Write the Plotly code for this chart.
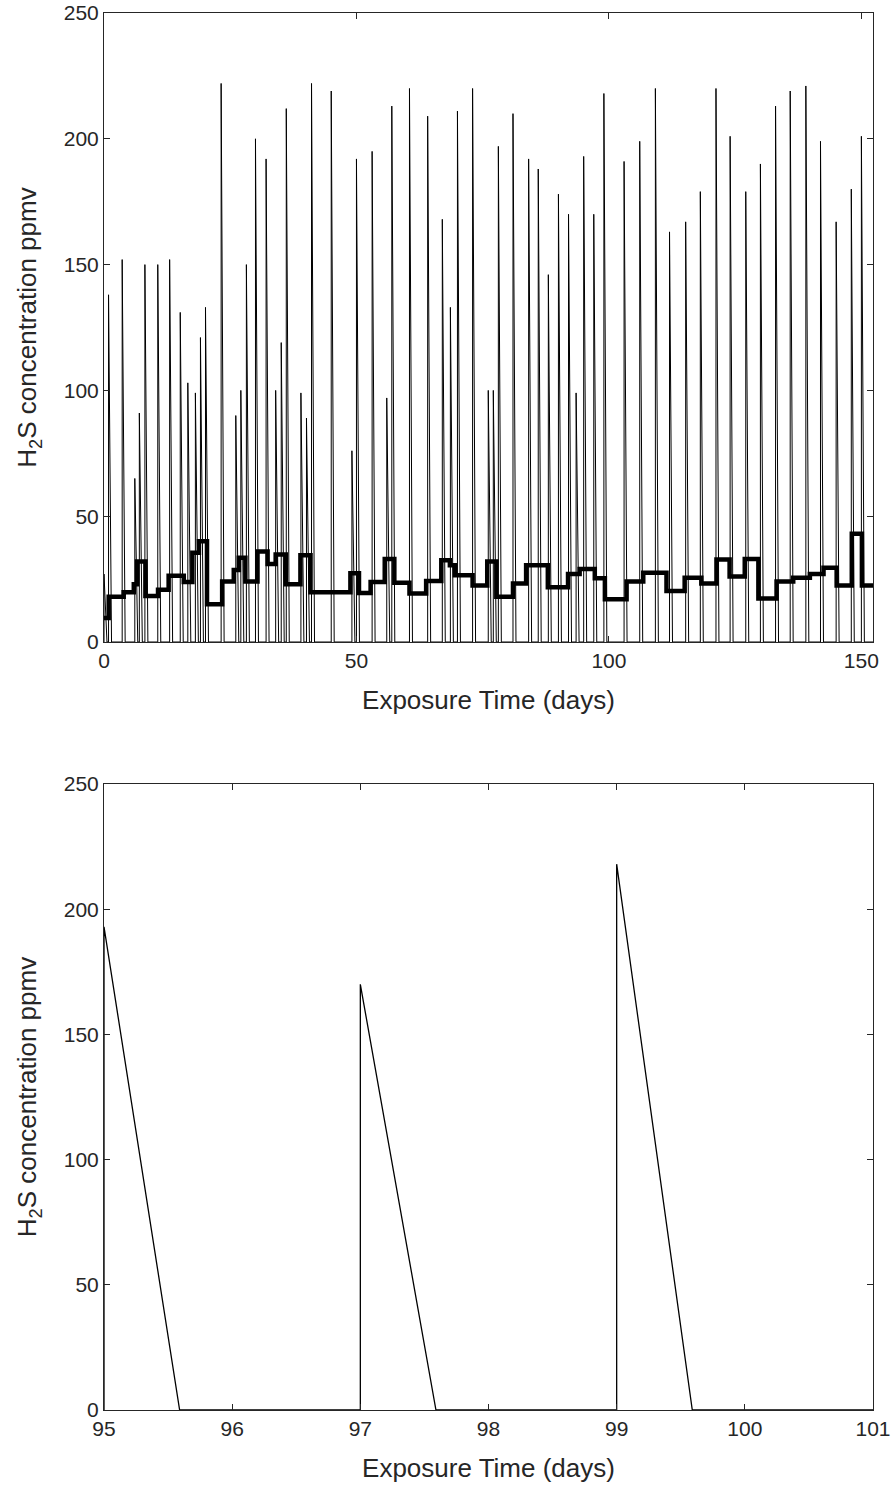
import plotly.graph_objects as go

# ---- data ----
spike_day = [0.0, 0.9, 3.6, 6.1, 7.0, 8.1, 10.65, 13.0, 15.1, 16.6, 18.1, 19.1, 20.1,
             23.2, 26.1, 27.1, 28.2, 30.0, 32.1, 34.0, 35.1, 36.1, 39.0, 40.1, 41.1,
             45.0, 49.1, 50.0, 53.1, 56.0, 57.0, 60.5, 64.1, 67.0, 68.6, 70.0, 73.0,
             76.1, 77.1, 78.1, 81.0, 84.1, 86.0, 88.0, 90.0, 92.0, 93.5, 95.0, 97.0,
             99.0, 103.0, 106.1, 109.2, 112.0, 115.2, 118.1, 121.2, 124.0, 127.1,
             130.0, 133.0, 135.9, 139.0, 141.9, 145.0, 148.0, 150.0]
spike_peak = [27, 138, 152, 65, 91, 150, 150, 152, 131, 103, 99, 121, 133,
              222, 90, 100, 150, 200, 192, 100, 119, 212, 99, 89, 222,
              219, 76, 192, 195, 97, 213, 220, 209, 168, 133, 211, 220,
              100, 100, 197, 210, 192, 188, 146, 178, 170, 99, 193, 170,
              218, 191, 199, 220, 163, 167, 179, 220, 201, 179,
              190, 213, 219, 221, 199, 167, 180, 201]
decay_days = 0.59          # time for each pulse to fall back to zero
end_day = 152.3

step_day = [0, 0.93, 3.9, 5.9, 6.55, 8.2, 10.7, 12.8, 15.8, 17.5, 18.8, 20.4, 23.4,
            25.7, 26.7, 28.0, 30.4, 32.4, 34.0, 36.0, 38.9, 40.9, 48.8, 50.5, 52.8,
            55.6, 57.5, 60.5, 63.8, 66.8, 68.5, 69.5, 73.0, 75.9, 77.7, 81.0, 83.6,
            87.9, 91.9, 94.2, 97.2, 99.2, 103.5, 106.8, 111.4, 115.0, 118.3, 121.3,
            123.9, 126.9, 129.6, 133.2, 136.5, 139.8, 142.5, 145.1, 148.1, 150.1, 152.3]
step_val = [9.5, 18, 19.8, 23, 32, 18.3, 20.8, 26.3, 23.8, 35.5, 40, 15, 24,
            28.6, 33.5, 24, 36, 31, 34.8, 23, 34.5, 19.8, 27.3, 19.5, 23.8,
            33, 23.5, 19.3, 24.2, 32.5, 30.5, 26.5, 22.5, 32, 18, 23.3, 30.5,
            21.8, 27, 29, 25.3, 17, 24, 27.5, 20.3, 25.5, 23.3, 32.8,
            26, 33, 17.3, 24, 25.5, 27, 29.5, 22.5, 43, 22.5, 22.5]

x_ticks_top = [0, 50, 100, 150]
x_ticks_bot = [95, 96, 97, 98, 99, 100, 101]
y_ticks = [0, 50, 100, 150, 200, 250]

# ---- build pulse trace from the read values ----
px, py = [0.0], [0.0]
for d, p in zip(spike_day, spike_peak):
    px += [d, d, d + decay_days]
    py += [0, p, 0]
px.append(end_day)
py.append(0)

AX = "#262626"
FONT = "Liberation Sans, Arial, Helvetica, sans-serif"

fig = go.Figure()
fig.add_trace(go.Scatter(x=px, y=py, mode="lines", line=dict(color="black", width=1),
                         xaxis="x", yaxis="y", showlegend=False))
fig.add_trace(go.Scatter(x=step_day, y=step_val, mode="lines", line_shape="hv",
                         line=dict(color="black", width=4.5),
                         xaxis="x", yaxis="y", showlegend=False))
fig.add_trace(go.Scatter(x=px, y=py, mode="lines", line=dict(color="black", width=1.3),
                         xaxis="x2", yaxis="y2", showlegend=False))

common = dict(showgrid=False, zeroline=False, showline=True, linecolor=AX, linewidth=1,
              mirror="ticks", ticks="inside", ticklen=6, tickcolor=AX, automargin=False,
              ticklabeloverflow="allow",
              tickfont=dict(family=FONT, size=21, color=AX))
ytitle = dict(text="H<sub>2</sub>S concentration ppmv", font=dict(family=FONT, size=26, color=AX),
              standoff=19)
xtitle = dict(text="Exposure Time (days)", font=dict(family=FONT, size=26, color=AX),
              standoff=19)

W, H = 891, 1490
top_lo = (1410 - 642) / 1397
bot_hi = (1410 - 784) / 1397

fig.update_layout(
    width=W, height=H,
    margin=dict(l=104, r=18, t=13, b=80),
    paper_bgcolor="white", plot_bgcolor="white",
    hovermode=False,
    xaxis=dict(domain=[0, 1], range=[0, end_day], tickvals=x_ticks_top, anchor="y",
               title=xtitle, **common),
    yaxis=dict(domain=[top_lo, 1], range=[0, 250], tickvals=y_ticks, anchor="x",
               title=ytitle, **common),
    xaxis2=dict(domain=[0, 1], range=[95, 101], tickvals=x_ticks_bot, anchor="y2",
                title=xtitle, **common),
    yaxis2=dict(domain=[0, bot_hi], range=[0, 250], tickvals=y_ticks, anchor="x2",
                title=ytitle, **common),
)

# remove the browser's default page margin so the figure sits at the window corner
fig.write_html("out.html", config={"displayModeBar": False},
               post_script="document.body.style.margin='0';document.body.style.padding='0';")
